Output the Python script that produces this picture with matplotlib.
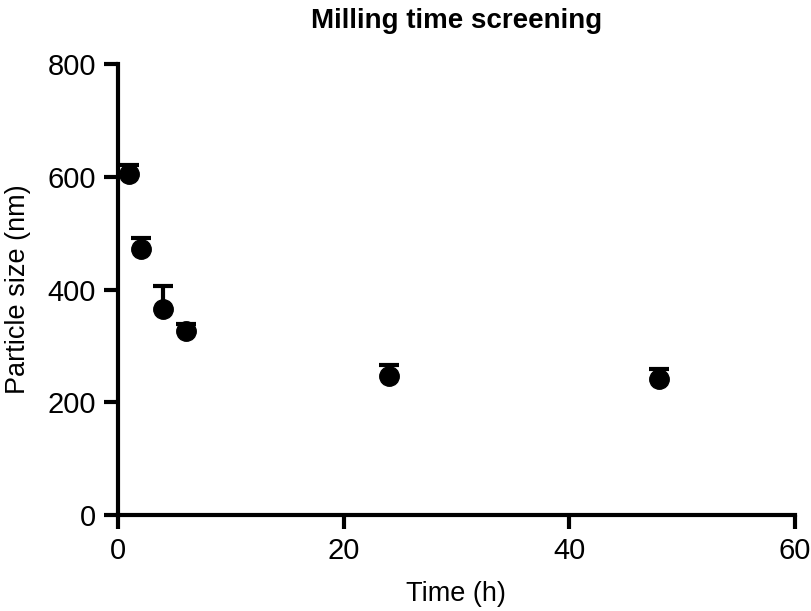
import matplotlib
matplotlib.use("Agg")
import matplotlib.pyplot as plt

time_h = [1, 2, 4, 6, 24, 48]
size_nm = [606, 472, 365, 326, 246, 241]
size_err = [15, 20, 41, 13, 20, 18]

plt.rcParams['font.family'] = ['Liberation Sans', 'DejaVu Sans']

fig = plt.figure(figsize=(8.11, 6.11), dpi=100)
ax = fig.add_axes([0.1455, 0.157, 0.8345, 0.738])

# upward error bars only
eb = ax.errorbar(time_h, size_nm, yerr=[[0] * len(size_err), size_err],
                 fmt='o', color='black', markersize=14, elinewidth=3,
                 capsize=7, capthick=3, clip_on=False, zorder=3)
eb[1][0].set_visible(False)

ax.set_xlim(0, 60)
ax.set_ylim(0, 800)
ax.set_xticks([0, 20, 40, 60])
ax.set_yticks([0, 200, 400, 600, 800])

for side in ['top', 'right']:
    ax.spines[side].set_visible(False)
for side in ['left', 'bottom']:
    ax.spines[side].set_linewidth(3)
ax.tick_params(width=3, length=10, labelsize=21, pad=6)

ax.set_xlabel("Time (h)", fontsize=19.5, labelpad=11)
ax.set_ylabel("Particle size (nm)", fontsize=19.5, labelpad=12)
ax.set_title("Milling time screening", fontsize=20, fontweight='bold', pad=26)

fig.savefig("out.png", dpi=100)
